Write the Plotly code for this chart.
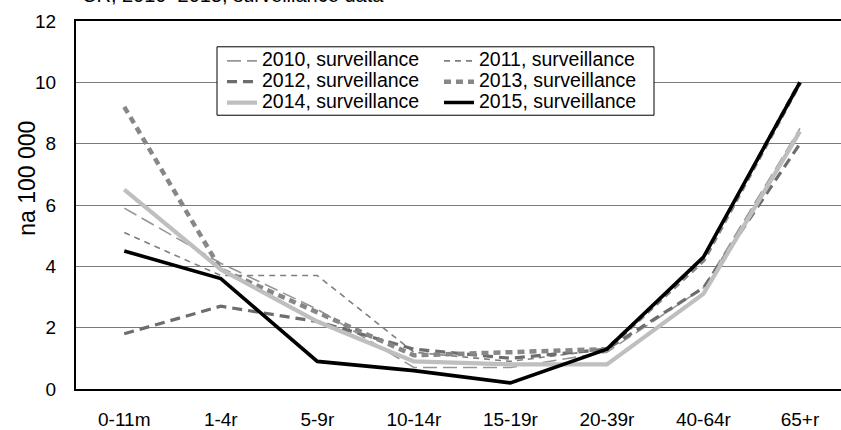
import plotly.graph_objects as go

categories = ["0-11m", "1-4r", "5-9r", "10-14r", "15-19r", "20-39r", "40-64r", "65+r"]
y2010 = [5.9, 4.1, 2.6, 0.7, 0.7, 1.2, 3.3, 8.5]
y2011 = [5.1, 3.7, 3.7, 1.2, 0.9, 1.3, 4.3, 10.0]
y2012 = [1.8, 2.7, 2.2, 1.3, 1.0, 1.3, 3.3, 8.0]
y2013 = [9.2, 3.9, 2.5, 1.1, 1.2, 1.3, 4.2, 10.0]
y2014 = [6.5, 3.9, 2.2, 0.9, 0.8, 0.8, 3.1, 8.4]
y2015 = [4.5, 3.6, 0.9, 0.6, 0.2, 1.3, 4.3, 10.0]
names = ["2010, surveillance", "2011, surveillance", "2012, surveillance",
         "2013, surveillance", "2014, surveillance", "2015, surveillance"]
yticks = [0, 2, 4, 6, 8, 10, 12]
ytitle = "na 100 000"
title_text = "ČR, 2010–2015, surveillance data"

FONT = "Liberation Sans, Arial, sans-serif"

series = [y2010, y2011, y2012, y2013, y2014, y2015]
styles = [
    dict(color="#969696", width=1.6, dash="14px,6px"),
    dict(color="#7f7f7f", width=1.6, dash="6px,5px"),
    dict(color="#6d6d6d", width=3.2, dash="10px,6px"),
    dict(color="#878787", width=4.5, dash="7px,5px"),
    dict(color="#bfbfbf", width=4.2, dash="solid"),
    dict(color="#000000", width=3.6, dash="solid"),
]
legends = ["legend", "legend2", "legend", "legend2", "legend", "legend2"]

fig = go.Figure()
for ys, nm, st, lg in zip(series, names, styles, legends):
    fig.add_trace(go.Scatter(
        x=categories, y=ys, mode="lines",
        name=f"<span style='font-size:19.5px'>{nm}</span>",
        line=st, legend=lg,
    ))

L, T, B = 76, 21, 38
W, H = 841, 430
pw = W - L
ph = H - T - B

def px_x(px):
    return (px - L) / pw

def px_y(py):
    return (H - B - py) / ph

leg_common = dict(
    yanchor="top", xanchor="left", bgcolor="rgba(0,0,0,0)", borderwidth=0,
    font=dict(family=FONT, size=13.7, color="black"), tracegroupgap=0,
    itemwidth=30,
)

fig.update_layout(
    width=W, height=H,
    margin=dict(l=L, r=0, t=T, b=B, pad=0),
    paper_bgcolor="white", plot_bgcolor="white",
    font=dict(family=FONT, size=19, color="black"),
    showlegend=True,
    legend=dict(x=px_x(222), y=px_y(45.7), **leg_common),
    legend2=dict(x=px_x(439), y=px_y(45.7), **leg_common),
    xaxis=dict(
        type="category", categoryorder="array", categoryarray=categories,
        range=[-0.5, 7.425], showgrid=False, zeroline=False,
        showline=True, linecolor="black", linewidth=2, mirror=True,
        ticks="", ticklabelstandoff=12,
        tickfont=dict(family=FONT, size=19, color="black"),
    ),
    yaxis=dict(
        range=[0, 12], tickvals=yticks, showgrid=True, gridcolor="#7a7a7a",
        gridwidth=1, zeroline=False, showline=True, linecolor="black",
        linewidth=2, ticks="", ticklabelstandoff=14,
        tickfont=dict(family=FONT, size=19, color="black"),
    ),
    shapes=[dict(
        type="rect", xref="paper", yref="paper",
        x0=px_x(217), x1=px_x(654), y0=px_y(116), y1=px_y(47),
        line=dict(color="black", width=1), fillcolor="white", layer="above",
    )],
    annotations=[
        dict(text=ytitle, textangle=-90, xref="paper", yref="paper",
             x=px_x(27), y=px_y(180), xanchor="center", yanchor="middle",
             showarrow=False, font=dict(family=FONT, size=23, color="black")),
        dict(text=title_text, xref="paper", yref="paper",
             x=px_x(80), y=px_y(-5), xanchor="left", yanchor="middle",
             showarrow=False, font=dict(family=FONT, size=20, color="black")),
    ],
)

fig.write_html(
    "out.html",
    config={"displayModeBar": False},
    post_script="document.body.style.margin='0';document.body.style.overflow='hidden';"
                "document.documentElement.style.overflow='hidden';",
)
